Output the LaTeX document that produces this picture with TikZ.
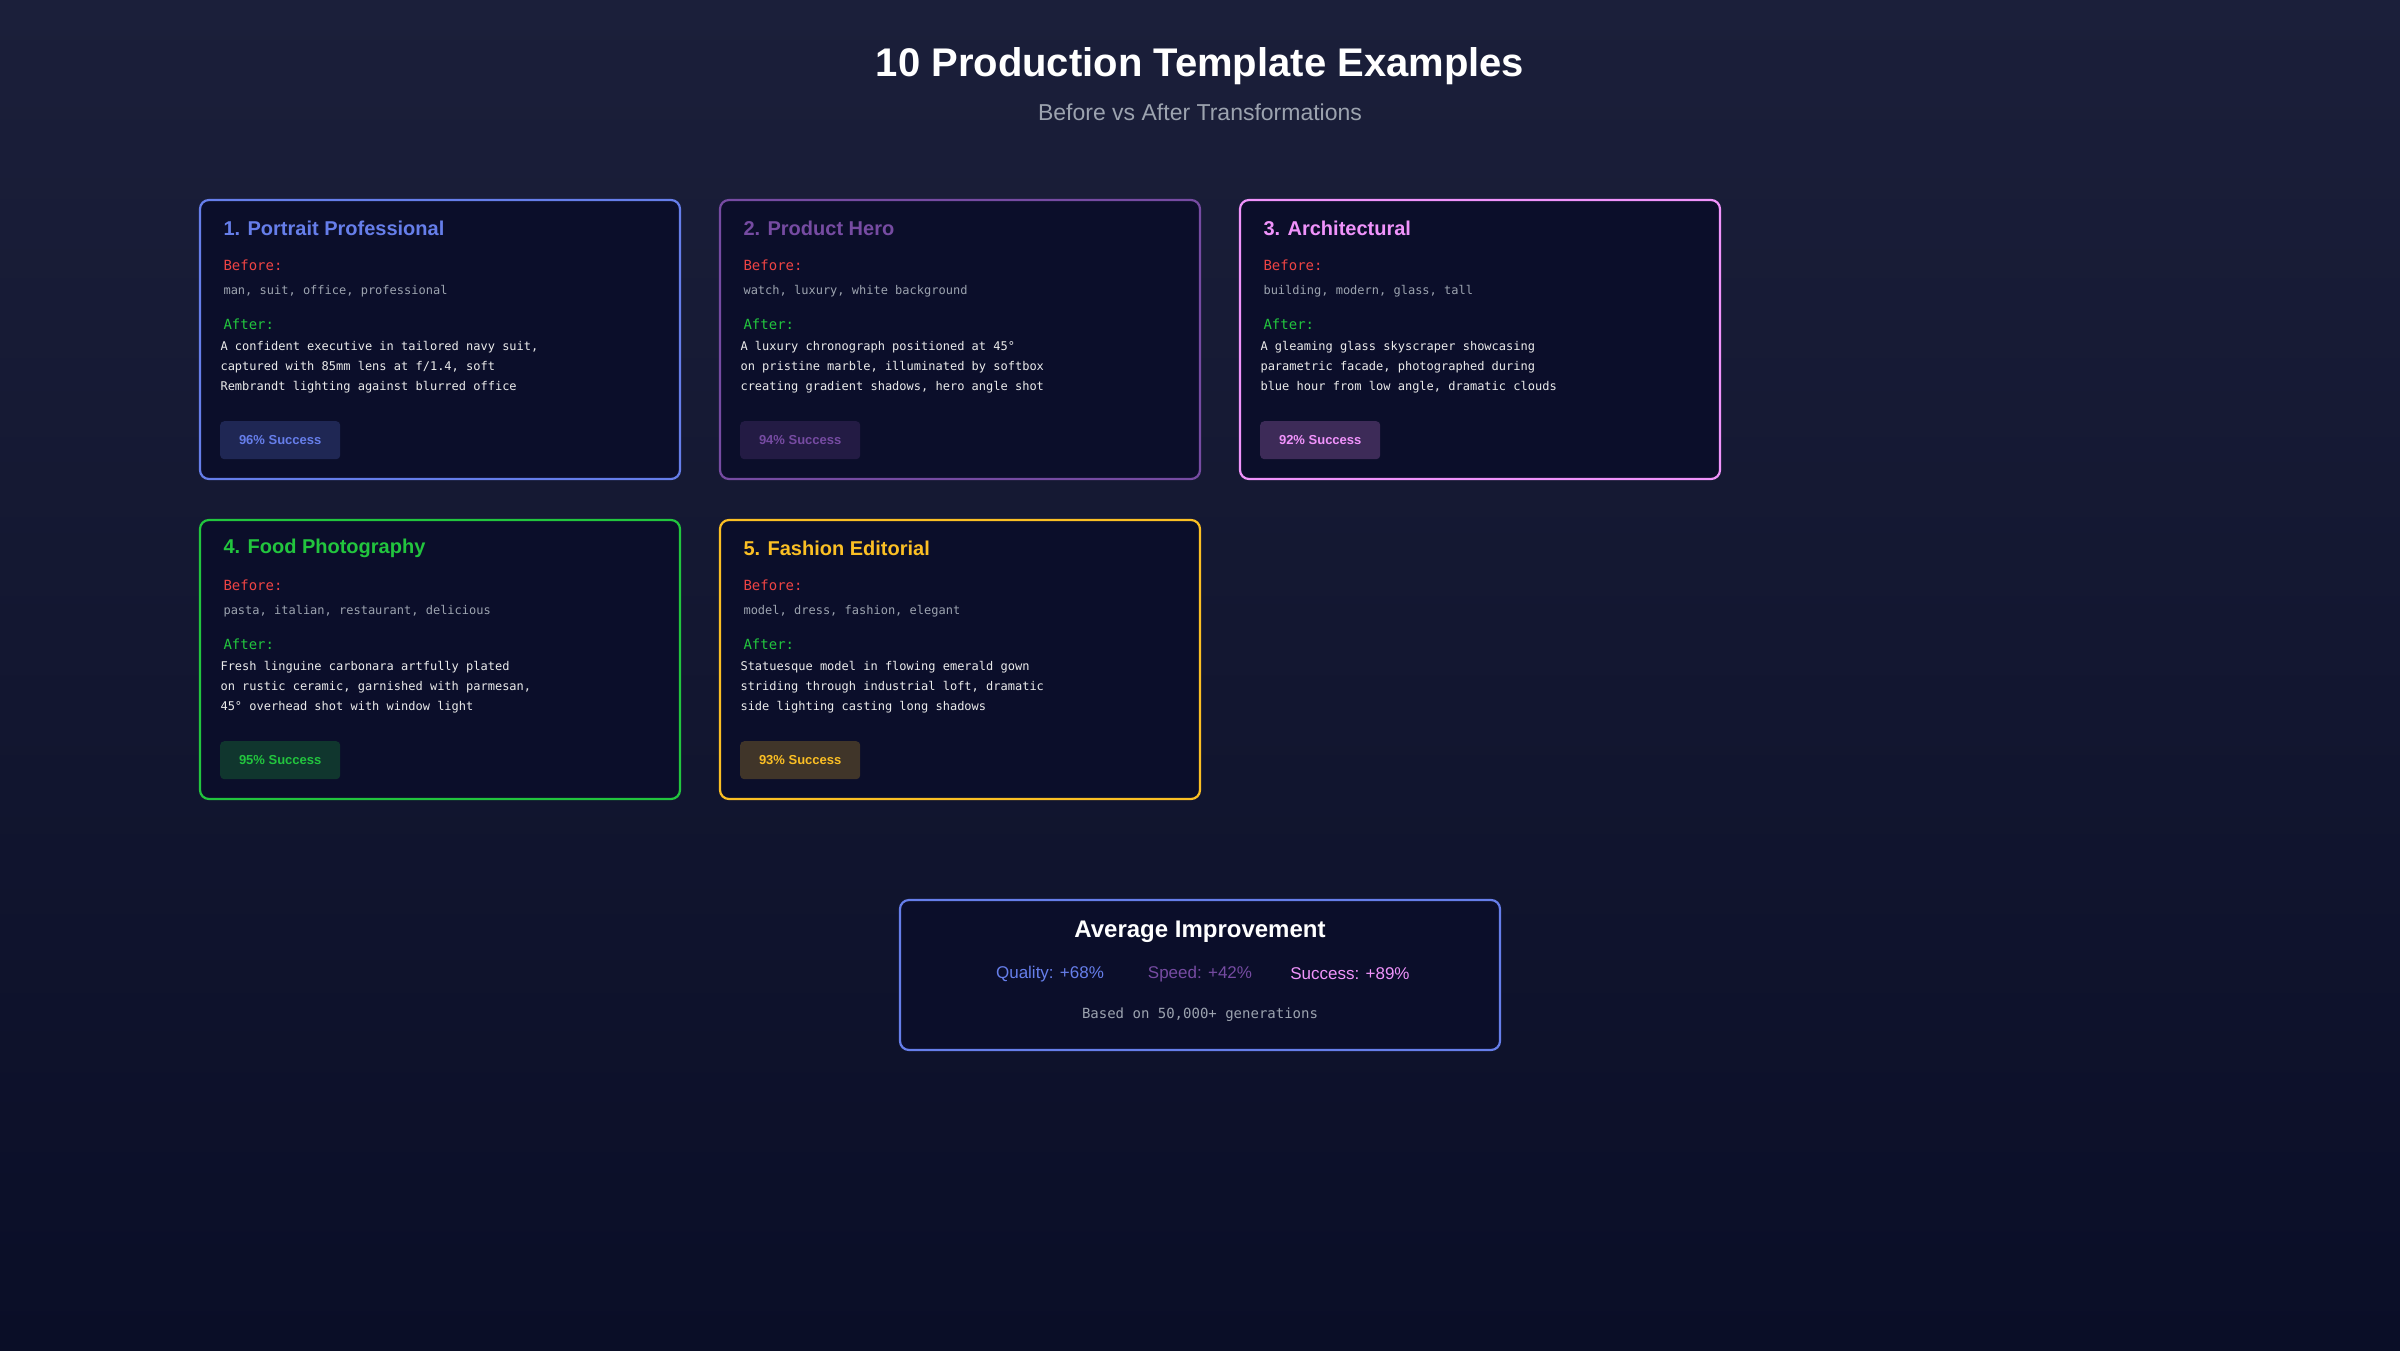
\documentclass[tikz,border=0pt]{standalone}
\usepackage{fontspec}
\setmainfont{Liberation Sans}
\setmonofont{DejaVu Sans Mono}
\definecolor{bgtop}{HTML}{1B1F3A}
\definecolor{bgbot}{HTML}{0A0E27}
\definecolor{cardbg}{HTML}{0B0E2A}
\definecolor{cblue}{HTML}{667EEA}
\definecolor{cpurple}{HTML}{764BA2}
\definecolor{cpink}{HTML}{F093FB}
\definecolor{cgreen}{HTML}{22C53E}
\definecolor{cyellow}{HTML}{FBBF24}
\definecolor{cred}{HTML}{EF4444}
\definecolor{cgrey}{HTML}{9CA3AF}
\tikzset{
  card/.style={draw=#1, line width=2.2pt, rounded corners=9pt, fill=cardbg},
  cardtitle/.style={anchor=west, text=#1, font=\fontsize{20}{24}\selectfont\bfseries},
  beforelbl/.style={anchor=west, text=cred, font=\ttfamily\fontsize{14}{16}\selectfont},
  afterlbl/.style={anchor=west, text=cgreen, font=\ttfamily\fontsize{14}{16}\selectfont},
  beforetxt/.style={anchor=west, text=cgrey, font=\ttfamily\fontsize{12}{14}\selectfont},
  aftertxt/.style={anchor=north west, text=white!92!black, align=left, font=\ttfamily\fontsize{12}{20}\selectfont},
  badge/.style={fill=#1!22!cardbg, rounded corners=4pt, text=#1, minimum width=120pt, minimum height=38pt, font=\fontsize{13}{15}\selectfont\bfseries}
}
% \card{name}{x}{y}{colour}{title}{before}{after}{percent}
\newcommand{\card}[8]{
  \draw[card=#4] (#2,#3) rectangle ++(480,279);
  \node[cardtitle=#4] (#1t) at (#2+20,#3+28) {#5};
  \node[beforelbl] (#1b) at (#2+20,#3+65) {Before:};
  \node[beforetxt] (#1bt) at (#2+20,#3+91) {#6};
  \node[afterlbl] (#1a) at (#2+20,#3+124) {After:};
  \node[aftertxt] (#1at) at (#2+17,#3+138) {#7};
  \node[badge=#4, anchor=north west] (#1s) at (#2+20,#3+221) {#8\% Success};
}
\begin{document}
\begin{tikzpicture}[x=1pt,y=-1pt]
  \shade[top color=bgtop, bottom color=bgbot] (0,0) rectangle (2400,1350);
  \useasboundingbox (0,0) rectangle (2400,1350);
  \node[text=white, font=\fontsize{40}{48}\selectfont\bfseries] (title) at (1200,66) {10 Production Template Examples};
  \node[text=cgrey, font=\fontsize{23}{28}\selectfont] (subtitle) at (1200,112) {Before vs After Transformations};

  \card{portrait}{200}{200}{cblue}{1. Portrait Professional}{man, suit, office, professional}
    {A confident executive in tailored navy suit,\\captured with 85mm lens at f/1.4, soft\\Rembrandt lighting against blurred office}{96}
  \card{product}{720}{200}{cpurple}{2. Product Hero}{watch, luxury, white background}
    {A luxury chronograph positioned at 45°\\on pristine marble, illuminated by softbox\\creating gradient shadows, hero angle shot}{94}
  \card{arch}{1240}{200}{cpink}{3. Architectural}{building, modern, glass, tall}
    {A gleaming glass skyscraper showcasing\\parametric facade, photographed during\\blue hour from low angle, dramatic clouds}{92}
  \card{food}{200}{520}{cgreen}{4. Food Photography}{pasta, italian, restaurant, delicious}
    {Fresh linguine carbonara artfully plated\\on rustic ceramic, garnished with parmesan,\\45° overhead shot with window light}{95}
  \card{fashion}{720}{520}{cyellow}{5. Fashion Editorial}{model, dress, fashion, elegant}
    {Statuesque model in flowing emerald gown\\striding through industrial loft, dramatic\\side lighting casting long shadows}{93}

  \draw[card=cblue] (900,900) rectangle (1500,1050);
  \node[text=white, font=\fontsize{24}{28}\selectfont\bfseries] (avg) at (1200,932) {Average Improvement};
  \node[text=cblue, font=\fontsize{17}{20}\selectfont] (quality) at (1050,974) {Quality: +68\%};
  \node[text=cpurple, font=\fontsize{17}{20}\selectfont] (speed) at (1200,974) {Speed: +42\%};
  \node[text=cpink, font=\fontsize{17}{20}\selectfont] (succ) at (1350,974) {Success: +89\%};
  \node[text=cgrey, font=\ttfamily\fontsize{14}{16}\selectfont] (based) at (1200,1015) {Based on 50,000+ generations};
\end{tikzpicture}
\end{document}
